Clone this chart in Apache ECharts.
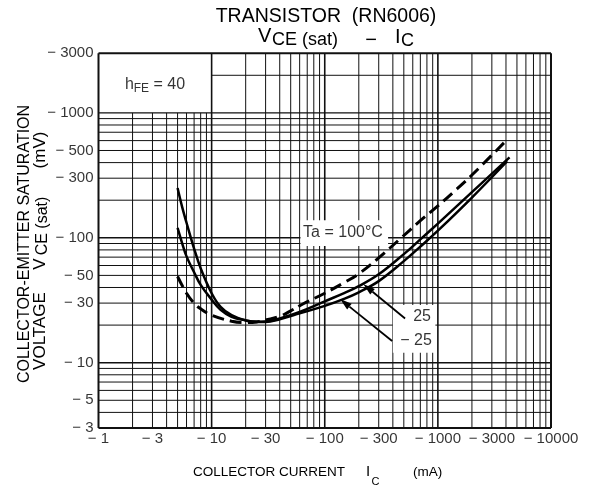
<!DOCTYPE html>
<html><head><meta charset="utf-8">
<script src="https://cdn.jsdelivr.net/npm/echarts@6/dist/echarts.min.js"></script>
<style>html,body{margin:0;padding:0;background:#fff}#c{width:594px;height:493px}</style>
</head><body><div id="c"></div>
<script>
const FONT = "'Liberation Sans', Arial, sans-serif";

// tick labels (mA on x, mV on y; shown with leading minus)
const xTickLabels = [1, 3, 10, 30, 100, 300, 1000, 3000, 10000];
const yTickLabels = [3, 5, 10, 30, 50, 100, 300, 500, 1000, 3000];

// curves [IC (mA), VCE(sat) (mV)] magnitudes
const curveM25 = [[5,250],[5.5,175],[6,132],[7,82],[8,57],[10,36],[12,28],[15,24],[20,21.8],[25,21.2],[30,21.2],[40,22.3],[60,24.8],[100,28.5],[150,32.6],[200,36.6],[300,45],[500,65],[700,85],[1000,114],[2000,210],[4100,410]];
const curve25 = [[5,120],[5.5,90],[6,71],[7,53],[8,42],[10,32],[12,26.5],[15,23.3],[20,21.8],[25,21.3],[30,21.4],[40,22.6],[60,25.5],[100,31],[150,36.2],[200,41],[300,51],[500,74],[700,97],[1000,130],[2000,232],[4300,440]];
const curve100 = [[5,49],[6,36],[7,30],[8,27],[10,24],[15,21.5],[20,21],[25,21.2],[30,22],[40,23.5],[50,26],[64,29.5],[100,36],[150,44],[200,51.5],[300,69],[463,98],[700,137],[1000,180],[1400,236],[2000,318],[3926,588]];

// grid line values
const gridX = [];
[1, 10, 100, 1000].forEach(d => { for (let k = 1; k <= 9; k++) gridX.push(k * d); });
gridX.push(10000);
const gridY = [3, 4, 5, 6, 7, 8, 9];
[10, 100].forEach(d => { for (let k = 1; k <= 9; k++) gridY.push(k * d); });
gridY.push(1000, 2000, 3000);

// annotations
const annotTexts = ['hFE', 'Ta = 100°C', '25', '\u2212 25'];
const annotPos = [[3.16, 1671], [145, 111], [725, 23.6], [641, 14.9]];
const arrowData = [[513, 22.6, 219, 42.6], [394, 14.9, 136.6, 32.3]];
const whiteBoxes = [[61, 86, 363, 138.5], [400, 12, 950, 29]];

const isMajor = v => Math.abs(Math.log10(v) - Math.round(Math.log10(v))) < 1e-9;
const segs = [];
gridX.forEach(x => {
  const top = (x > 1 && x < 10) ? 1000 : 3000;
  const w = (x === 1 || x === 10000) ? 2 : (isMajor(x) ? 1.6 : 1);
  segs.push([x, 3, x, top, w]);
});
gridY.forEach(y => {
  const left = (y === 2000) ? 10 : 1;
  const w = (y === 3 || y === 3000) ? 2 : (isMajor(y) ? 1.4 : 1);
  segs.push([left, y, 10000, y, w]);
});

const chart = echarts.init(document.getElementById('c'));
const txt = (text, x, y, size, opt) => Object.assign({
  type: 'text', x: x, y: y, silent: true,
  style: Object.assign({ text: text, fontSize: size, fontFamily: FONT, fill: '#000',
    textAlign: 'left', textVerticalAlign: 'middle' }, (opt && opt.style) || {})
}, opt && opt.rotation !== undefined ? { rotation: opt.rotation } : {});

chart.setOption({
  animation: false,
  backgroundColor: '#fff',
  grid: { left: 98.5, right: 43, top: 53.3, bottom: 65 },
  xAxis: { type: 'log', logBase: 10, min: 1, max: 10000,
    axisLine: { show: false }, axisTick: { show: false }, axisLabel: { show: false }, splitLine: { show: false } },
  yAxis: { type: 'log', logBase: 10, min: 3, max: 3000,
    axisLine: { show: false }, axisTick: { show: false }, axisLabel: { show: false }, splitLine: { show: false } },
  graphic: [
    txt('TRANSISTOR  (RN6006)', 326, 17, 19.5, { style: { textAlign: 'center' } }),
    txt('V', 258, 36, 20),
    txt('CE (sat)', 272, 40.5, 18),
    txt('\u2212', 371, 40, 20, { style: { textAlign: 'center' } }),
    txt('I', 395, 37, 20),
    txt('C', 401, 41, 18),
    txt('COLLECTOR-EMITTER SATURATION', 25, 244, 16, { rotation: Math.PI / 2, style: { textAlign: 'center' } }),
    txt('VOLTAGE', 40, 331, 17, { rotation: Math.PI / 2, style: { textAlign: 'center' } }),
    txt('V', 40, 264, 17, { rotation: Math.PI / 2, style: { textAlign: 'center' } }),
    txt('CE (sat)', 43, 226, 16, { rotation: Math.PI / 2, style: { textAlign: 'center' } }),
    txt('(mV)', 40, 150, 17, { rotation: Math.PI / 2, style: { textAlign: 'center' } }),
    txt('COLLECTOR CURRENT', 193, 472, 13.5),
    txt('I', 366, 472, 15),
    txt('C', 371.5, 482, 11),
    txt('(mA)', 413, 472, 13.5)
  ],
  series: [
    { type: 'custom', name: 'grid', z: 2, silent: true, data: segs,
      encode: { x: [0, 2], y: [1, 3] },
      renderItem: (p, api) => {
        const a = api.coord([api.value(0), api.value(1)]);
        const b = api.coord([api.value(2), api.value(3)]);
        return { type: 'line', shape: { x1: a[0], y1: a[1], x2: b[0], y2: b[1] },
          style: { stroke: '#111', lineWidth: api.value(4) } };
      } },
    { type: 'custom', name: 'boxes', z: 3, silent: true, data: whiteBoxes,
      encode: { x: [0, 2], y: [1, 3] },
      renderItem: (p, api) => {
        const a = api.coord([api.value(0), api.value(1)]);
        const b = api.coord([api.value(2), api.value(3)]);
        return { type: 'rect', shape: { x: Math.min(a[0], b[0]), y: Math.min(a[1], b[1]),
          width: Math.abs(b[0] - a[0]), height: Math.abs(b[1] - a[1]) },
          style: { fill: '#fff' } };
      } },
    { type: 'line', name: 'Ta = 100°C', z: 5, data: curve100, showSymbol: false, smooth: 0.4,
      lineStyle: { color: '#000', width: 3, type: [12, 6], cap: 'butt' } },
    { type: 'line', name: '25', z: 5, data: curve25, showSymbol: false, smooth: 0.4,
      lineStyle: { color: '#000', width: 2.5 } },
    { type: 'line', name: '-25', z: 5, data: curveM25, showSymbol: false, smooth: 0.4,
      lineStyle: { color: '#000', width: 2.5 } },
    { type: 'custom', name: 'arrows', z: 6, silent: true, data: arrowData,
      encode: { x: [0, 2], y: [1, 3] },
      renderItem: (p, api) => {
        const a = api.coord([api.value(0), api.value(1)]);
        const b = api.coord([api.value(2), api.value(3)]);
        const dx = b[0] - a[0], dy = b[1] - a[1], len = Math.hypot(dx, dy);
        const ux = dx / len, uy = dy / len, L = 12, W = 3.6;
        const bx = b[0] - ux * L, by = b[1] - uy * L;
        return { type: 'group', children: [
          { type: 'line', shape: { x1: a[0], y1: a[1], x2: bx, y2: by }, style: { stroke: '#000', lineWidth: 1.8 } },
          { type: 'polygon', shape: { points: [[b[0], b[1]], [bx - uy * W, by + ux * W], [bx + uy * W, by - ux * W]] },
            style: { fill: '#000' } }
        ] };
      } },
    { type: 'scatter', name: 'annot', z: 7, silent: true, symbolSize: 0,
      data: annotPos.map((v, i) => ({ value: v, name: annotTexts[i] })),
      label: { show: true, position: 'inside', color: '#000', fontFamily: FONT, fontSize: 16,
        formatter: p => p.name === 'hFE' ? '{n|h}{s|FE}{n| = 40}' : p.name,
        rich: { n: { fontSize: 16, fontFamily: FONT, color: '#000' },
                s: { fontSize: 12, fontFamily: FONT, color: '#000', padding: [8, 0, 0, 0] } } } },
    { type: 'scatter', name: 'yticks', z: 7, silent: true, symbolSize: 0,
      data: yTickLabels.map(v => [1, v]),
      label: { show: true, position: 'left', distance: 5, color: '#000', fontFamily: FONT, fontSize: 15,
        formatter: p => '\u2212 ' + p.value[1] } },
    { type: 'scatter', name: 'xticks', z: 7, silent: true, symbolSize: 0,
      data: xTickLabels.map(v => [v, 3]),
      label: { show: true, position: 'bottom', distance: 3, color: '#000', fontFamily: FONT, fontSize: 15,
        formatter: p => '\u2212 ' + p.value[0] } }
  ]
});
</script></body></html>
